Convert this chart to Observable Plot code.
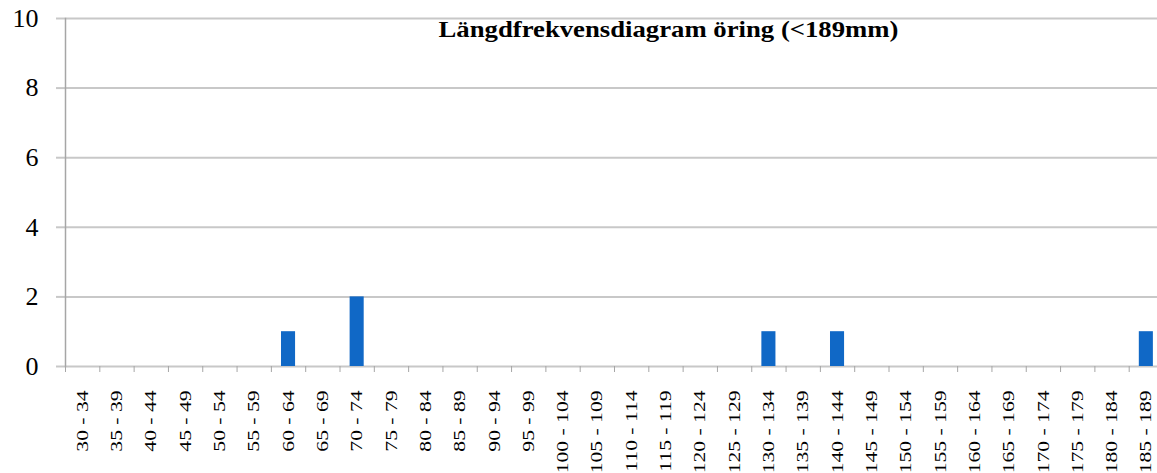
<!DOCTYPE html>
<html>
<head>
<meta charset="utf-8">
<script src="https://cdn.jsdelivr.net/npm/d3@7"></script>
<script src="https://cdn.jsdelivr.net/npm/@observablehq/plot@0.6"></script>
<style>
  html, body { margin: 0; padding: 0; background: #fff; }
</style>
</head>
<body>
<div id="chart"></div>
<script>
const categories = [
  "30 - 34","35 - 39","40 - 44","45 - 49","50 - 54","55 - 59","60 - 64","65 - 69",
  "70 - 74","75 - 79","80 - 84","85 - 89","90 - 94","95 - 99","100 - 104","105 - 109",
  "110 - 114","115 - 119","120 - 124","125 - 129","130 - 134","135 - 139","140 - 144","145 - 149",
  "150 - 154","155 - 159","160 - 164","165 - 169","170 - 174","175 - 179","180 - 184","185 - 189"
];
const counts = [
  0,0,0,0,0,0,1,0,
  2,0,0,0,0,0,0,0,
  0,0,0,0,1,0,1,0,
  0,0,0,0,0,0,0,1
];
const yTicks = [0, 2, 4, 6, 8, 10];
const title = "Längdfrekvensdiagram öring (<189mm)";

const data = categories.map((c, i) => ({c, n: counts[i]}));

const xRange = [65, 1163];
const step = (xRange[1] - xRange[0]) / categories.length;

const chart = Plot.plot({
  width: 1157,
  height: 473,
  marginLeft: 65,
  marginRight: 0,
  marginTop: 18,
  marginBottom: 107,
  style: {fontFamily: "'Liberation Serif', 'Times New Roman', serif", background: "#fff", color: "#000"},
  x: {domain: categories, range: xRange, paddingInner: 0.59, paddingOuter: 0.295, align: 0.5, round: false},
  y: {domain: [0, 10], ticks: yTicks},
  marks: [
    Plot.gridY(yTicks, {stroke: "#c8c8c8", strokeOpacity: 1, strokeWidth: 2}),
    Plot.axisY(yTicks, {tickSize: 9, tickPadding: 18, fontSize: 26, stroke: "#c8c8c8", strokeWidth: 2, label: null, fill: "#000"}),
    Plot.frame({anchor: "left", stroke: "#a6a6a6", strokeWidth: 1.5}),
    Plot.barY(data, {x: "c", y: "n", fill: "#1068c6"}),
    Plot.axisX({tickSize: 6, dx: -step / 2, tickFormat: () => "", stroke: "#a6a6a6", label: null}),
    Plot.axisX({tickSize: 0, tickPadding: 24, tickRotate: -90, fontSize: 16, label: null, fill: "#000"}),
    Plot.text([title], {frameAnchor: "top", dx: 57, dy: 2, lineAnchor: "top", fontSize: 23, fontWeight: "bold", fill: "#000"})
  ]
});
document.getElementById("chart").appendChild(chart);

// stretch text to match the reference's wide rendering
const catSet = new Set(categories);
d3.select(chart).selectAll("text").each(function() {
  const t = this.textContent;
  const sel = d3.select(this);
  if (catSet.has(t)) {
    const tr = sel.attr("transform") || "";
    sel.attr("transform", tr + " scale(1.35,1)");
  } else if (t === title) {
    sel.attr("textLength", 460).attr("lengthAdjust", "spacingAndGlyphs");
  }
});
</script>
</body>
</html>
